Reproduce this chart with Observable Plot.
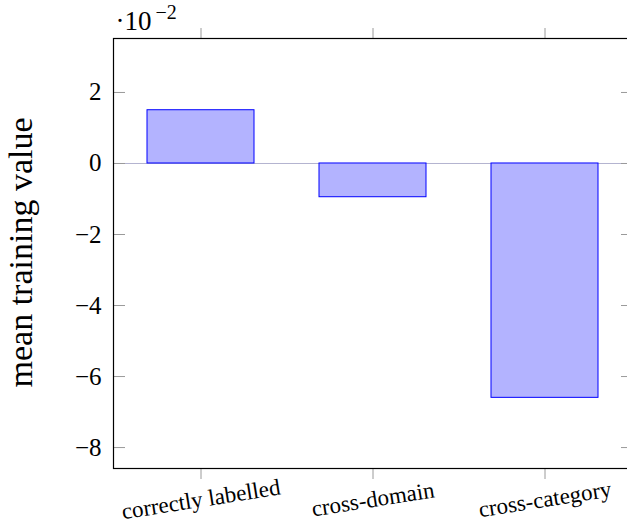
<!DOCTYPE html>
<html>
<head>
<meta charset="utf-8">
<script src="https://cdn.jsdelivr.net/npm/d3@7"></script>
<script src="https://cdn.jsdelivr.net/npm/@observablehq/plot@0.6"></script>
<style>
  html, body { margin: 0; padding: 0; background: #fff; overflow: hidden; }
  #chart svg { max-width: none !important; }
  #chart svg text { font-family: 'Liberation Serif', 'DejaVu Serif', serif !important; }
</style>
</head>
<body>
<div id="chart"></div>
<script>
const categories = ["correctly labelled", "cross-domain", "cross-category"];
const values = [1.5, -0.95, -6.6];
const yTicks = [-8, -6, -4, -2, 0, 2];
const yLabel = "mean training value";
const exponentBase = "·10";
const exponentPower = "−2";

const data = categories.map((c, i) => ({cat: c, value: values[i]}));
const fmt = d => d < 0 ? "−" + (-d) : String(d);
const serif = "'Liberation Serif', 'DejaVu Serif', serif";
const tickGray = "#9a9a9a";

const chart = Plot.plot({
  width: 632,
  height: 521,
  marginLeft: 113,
  marginRight: 0,
  marginTop: 38,
  marginBottom: 53,
  style: {fontFamily: serif, background: "#fff"},
  x: {domain: categories, paddingInner: 0.38, paddingOuter: 0.194, align: 0.5},
  y: {domain: [-8.59, 3.52]},
  marks: [
    Plot.ruleY([0], {stroke: "#b4b4d0", strokeWidth: 1}),
    Plot.barY(data, {x: "cat", y: "value", fill: "#b3b3ff", stroke: "#0000ff", strokeWidth: 1}),
    Plot.axisY({anchor: "left", ticks: yTicks, tickSize: 0, tickPadding: 12, tickFormat: fmt, fontSize: 25, fontFamily: serif, fill: "#000", label: null}),
    Plot.axisY({anchor: "left", ticks: yTicks, tickSize: -12, tickFormat: () => "", stroke: tickGray, label: null}),
    Plot.axisY({anchor: "right", ticks: yTicks, tickSize: -12, tickFormat: () => "", stroke: tickGray, label: null}),
    Plot.axisX({anchor: "top", tickSize: 11, tickFormat: () => "", stroke: tickGray, label: null}),
    Plot.axisX({anchor: "bottom", tickSize: 11, tickFormat: () => "", stroke: tickGray, label: null}),
    Plot.text(categories, {x: d => d, text: d => d, frameAnchor: "bottom", dy: 31, rotate: -9, fontSize: 23, fontFamily: serif, textAnchor: "middle", lineAnchor: "middle", fill: "#000"}),
    Plot.frame({stroke: "#000", strokeWidth: 1.2}),
    Plot.text([yLabel], {frameAnchor: "left", dx: -92, dy: -1, rotate: -90, fontSize: 34, fontFamily: serif, textAnchor: "middle", lineAnchor: "middle", fill: "#000"}),
    Plot.text([exponentBase], {frameAnchor: "top-left", dx: 2, dy: -9, fontSize: 27, fontFamily: serif, textAnchor: "start", lineAnchor: "bottom", fill: "#000"}),
    Plot.text([exponentPower], {frameAnchor: "top-left", dx: 42, dy: -20, fontSize: 20, fontFamily: serif, textAnchor: "start", lineAnchor: "bottom", fill: "#000"})
  ]
});
document.getElementById("chart").appendChild(chart);
</script>
</body>
</html>
